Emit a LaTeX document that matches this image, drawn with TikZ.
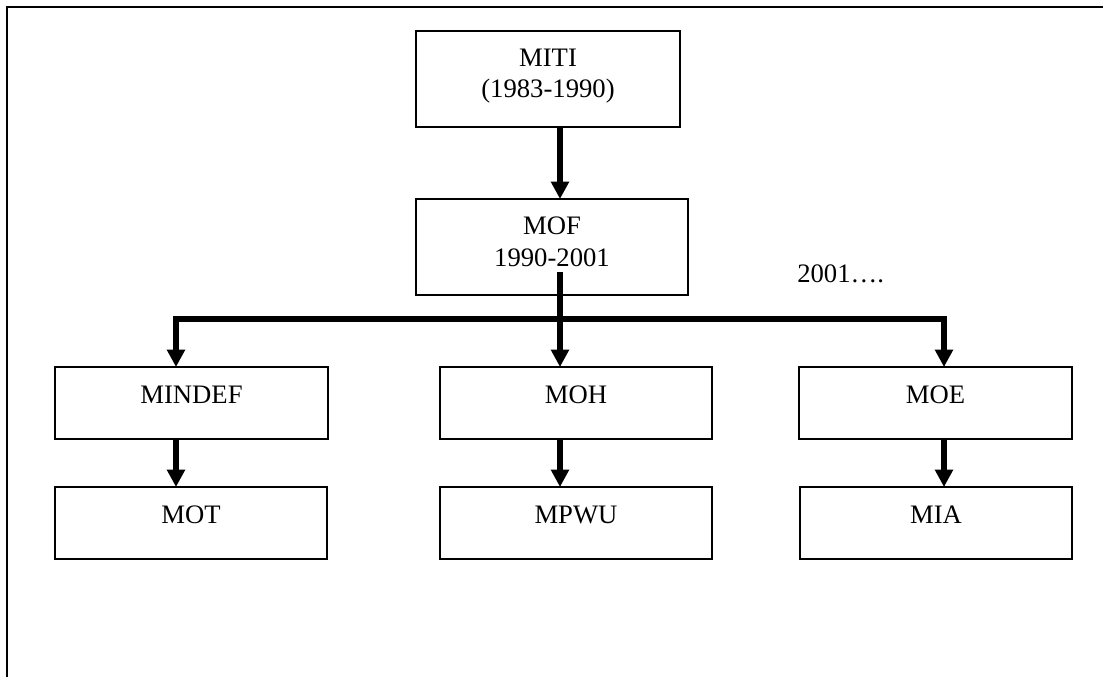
\documentclass[tikz,border=0pt]{standalone}
\usepackage{fontspec}
\setmainfont{Liberation Serif}
\usetikzlibrary{arrows.meta}

\tikzset{
  orgbox/.style={draw=black, line width=1.6pt, fill=white, inner sep=0pt, outer sep=0pt},
  label text/.style={anchor=base, inner sep=0pt, font=\fontsize{20}{24}\selectfont},
  flow/.style={line width=3.9pt, -{Triangle[width=13pt,length=13pt]}},
  bar/.style={line width=3.9pt},
  frame/.style={line width=1.6pt}
}

\begin{document}
\begin{tikzpicture}[x=0.75pt, y=-0.75pt, line join=miter]
  \useasboundingbox (0,0) rectangle (1103,677);

  % page frame: top and left rules only
  \coordinate (fcorner) at (7,7);
  \coordinate (ftop) at (1103,7);
  \coordinate (fleft) at (7,677);
  \draw[frame] (ftop) -- (fcorner) -- (fleft);

  % boxes
  \node[orgbox, minimum width=264*0.75pt, minimum height=96*0.75pt] (miti) at (548,79) {};
  \node[orgbox, minimum width=272*0.75pt, minimum height=96*0.75pt] (mof) at (552,247) {};
  \node[orgbox, minimum width=273*0.75pt, minimum height=72*0.75pt] (mindef) at (191.5,403) {};
  \node[orgbox, minimum width=272*0.75pt, minimum height=72*0.75pt] (moh) at (576,403) {};
  \node[orgbox, minimum width=273*0.75pt, minimum height=72*0.75pt] (moe) at (935.5,403) {};
  \node[orgbox, minimum width=272*0.75pt, minimum height=72*0.75pt] (mot) at (191,523) {};
  \node[orgbox, minimum width=272*0.75pt, minimum height=72*0.75pt] (mpwu) at (576,523) {};
  \node[orgbox, minimum width=272*0.75pt, minimum height=72*0.75pt] (mia) at (936,523) {};

  % box texts
  \node[label text] (mitiA) at ([yshift=-27pt]miti.north) {MITI};
  \node[label text] (mitiB) at ([yshift=-50pt]miti.north) {(1983-1990)};
  \node[label text] (mofA) at ([yshift=-27pt]mof.north) {MOF};
  \node[label text] (mofB) at ([yshift=-51pt]mof.north) {1990-2001};
  \node[label text] (mindefT) at ([yshift=-27pt]mindef.north) {MINDEF};
  \node[label text] (mohT) at ([yshift=-27pt]moh.north) {MOH};
  \node[label text] (moeT) at ([yshift=-27pt]moe.north) {MOE};
  \node[label text] (motT) at ([yshift=-27pt]mot.north) {MOT};
  \node[label text] (mpwuT) at ([yshift=-27pt]mpwu.north) {MPWU};
  \node[label text] (miaT) at ([yshift=-27pt]mia.north) {MIA};

  % period note
  \node[label text, anchor=base west] (since) at (797,282) {2001….};

  % connector points
  \coordinate (spine) at (560,272);
  \coordinate (bus) at (560,319);
  \coordinate (busL) at (176,319);
  \coordinate (busR) at (944,319);

  % MITI -> MOF
  \draw[flow] (miti.south -| spine) -- (mof.north -| spine);

  % MOF -> distribution bar -> second row
  \draw[bar] (spine) -- (bus);
  \draw[line width=3.9pt, {Triangle[width=13pt,length=13pt]}-{Triangle[width=13pt,length=13pt]}]
    (mindef.north -| busL) -- (busL) -- (busR) -- (moe.north -| busR);
  \draw[flow] (bus) -- (moh.north -| bus);

  % second row -> third row
  \draw[flow] (mindef.south -| busL) -- (mot.north -| busL);
  \draw[flow] (moh.south -| bus) -- (mpwu.north -| bus);
  \draw[flow] (moe.south -| busR) -- (mia.north -| busR);
\end{tikzpicture}
\end{document}
